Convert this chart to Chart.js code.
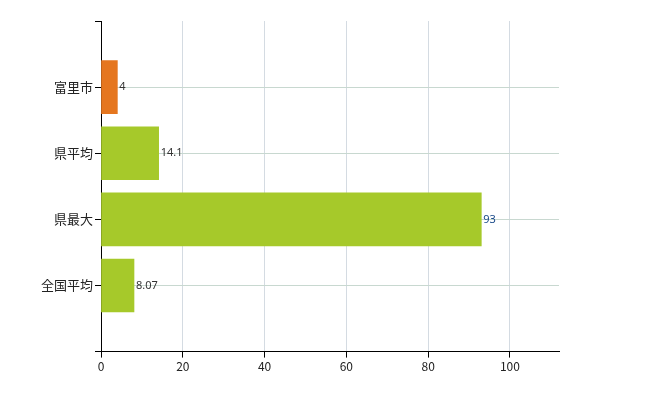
<!DOCTYPE html>
<html><head><meta charset="utf-8">
<script src="https://cdn.jsdelivr.net/npm/chart.js@4/dist/chart.umd.min.js"></script>
<style>html,body{margin:0;background:#fff}#w{width:650px;height:400px}</style>
</head><body><div id="w"><canvas id="c" width="650" height="400"></canvas></div>
<script>
const categories = ['', '富里市', '県平均', '県最大', '全国平均', ''];
const values = [null, 4, 14.1, 93, 8.07, null];
const labelsText = ['', '4', '14.1', '93', '8.07', ''];
const barColors = ['#000', '#e5761f', '#a6c92a', '#a6c92a', '#a6c92a', '#000'];
const xTicks = [0, 20, 40, 60, 80, 100];
const font = "'Noto Sans CJK JP', 'Noto Sans', sans-serif";
const valLabels = {
  id: 'valLabels',
  afterDatasetsDraw(chart) {
    const ctx = chart.ctx, meta = chart.getDatasetMeta(0);
    ctx.save(); ctx.font = "11px 'Noto Sans', sans-serif"; ctx.textBaseline = 'middle';
    meta.data.forEach((el, i) => {
      if (values[i] == null) return;
      ctx.fillStyle = i === 3 ? '#1a4a8a' : '#333';
      ctx.fillText(labelsText[i], el.x + 2, el.y);
    });
    ctx.restore();
  }
};
new Chart(document.getElementById('c'), {
  type: 'bar',
  data: { labels: categories, datasets: [{ data: values, backgroundColor: barColors, barThickness: 53 }] },
  options: {
    indexAxis: 'y', responsive: false, animation: false,
    layout: { padding: { left: 0, right: 91, top: 21, bottom: 24 } },
    plugins: { legend: { display: false }, tooltip: { enabled: false } },
    scales: {
      x: {
        min: 0, max: 112,
        afterBuildTicks: a => { a.ticks = xTicks.map(v => ({ value: v })); },
        grid: { color: '#d4dbe2', drawTicks: true, tickLength: 6, tickColor: '#000' },
        border: { color: '#000', dash: [] },
        ticks: { color: '#222', font: { family: font, size: 12 }, padding: 2 }
      },
      y: {
        offset: false,
        grid: { offset: false, color: ctx => (ctx.index === 0 || ctx.index === 5) ? 'rgba(0,0,0,0)' : '#c8d8d0', tickLength: 6, tickColor: ctx => (ctx.index === 0 || ctx.index === 5) ? '#000' : '#000' },
        border: { color: '#000' },
        afterFit: s => { s.width = 101; },
        ticks: { color: '#222', font: { family: font, size: 13 }, padding: 2 }
      }
    }
  },
  plugins: [valLabels]
});
</script></body></html>
